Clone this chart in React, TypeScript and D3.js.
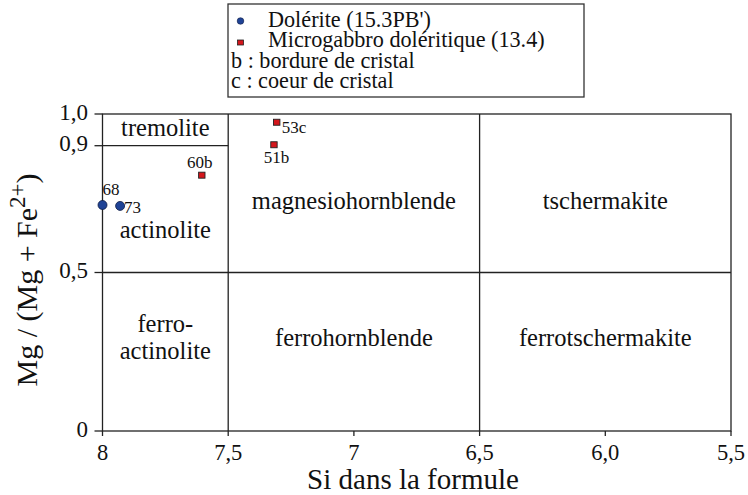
import React from "react";
import * as d3 from "d3";

// data
const doleriteSi = [8.0, 7.93];
const doleriteMg = [0.713, 0.71];
const doleriteLabels = ["68", "73"];

const microSi = [7.605, 7.307, 7.318];
const microMg = [0.807, 0.974, 0.903];
const microLabels = ["60b", "53c", "51b"];

const xTicks = [8, 7.5, 7, 6.5, 6.0, 5.5];
const xTickLabels = ["8", "7,5", "7", "6,5", "6,0", "5,5"];
const yTicks = [0, 0.5, 0.9, 1.0];
const yTickLabels = ["0", "0,5", "0,9", "1,0"];

const fieldNames = ["tremolite", "actinolite", "magnesiohornblende", "tschermakite", "ferrohornblende", "ferrotschermakite"];
const fieldSi = [7.75, 7.75, 7.0, 6.0, 7.0, 6.0];
const fieldMg = [0.93, 0.609, 0.7, 0.7, 0.268, 0.268];

const legendItems = ["Dolérite (15.3PB')", "Microgabbro doléritique (13.4)", "b : bordure de cristal", "c : coeur de cristal"];

const FONT = "Liberation Serif";
const INK = "#111";
const LINE = "#222";

// label offsets for point annotations (px)
const dolOff = [[0, -10, "start"], [4, 7, "start"]] as const;
const micOff = [[-2, -7, "middle"], [5, 11, "start"], [2.5, 18, "middle"]] as const;

export default function App() {
  const W = 748, H = 495;
  const x = d3.scaleLinear().domain([8, 5.5]).range([102.5, 731]);
  const y = d3.scaleLinear().domain([0, 1]).range([431, 114]);
  const sw = 1.3;
  const tf = { fontFamily: FONT };

  return (
    <svg width={W} height={H} style={{ position: "absolute", left: 0, top: 0, background: "#fff", fontFamily: FONT }}>
      <rect x={x(8)} y={y(1)} width={x(5.5) - x(8)} height={y(0) - y(1)} fill="none" stroke={LINE} strokeWidth={sw} />
      <line x1={x(7.5)} x2={x(7.5)} y1={y(1)} y2={y(0)} stroke={LINE} strokeWidth={sw} />
      <line x1={x(6.5)} x2={x(6.5)} y1={y(1)} y2={y(0)} stroke={LINE} strokeWidth={sw} />
      <line x1={x(8)} x2={x(5.5)} y1={y(0.5)} y2={y(0.5)} stroke={LINE} strokeWidth={sw} />
      <line x1={x(8)} x2={x(7.5)} y1={y(0.9)} y2={y(0.9)} stroke={LINE} strokeWidth={sw} />

      {yTicks.map((t, i) => (
        <g key={"y" + t}>
          <line x1={x(8) - 8} x2={x(8)} y1={y(t)} y2={y(t)} stroke={LINE} strokeWidth={sw} />
          <text x={x(8) - 14.5} y={y(t) + 5.5} textAnchor="end" fontSize={23} fill={INK} style={tf}>{yTickLabels[i]}</text>
        </g>
      ))}
      {xTicks.map((t, i) => (
        <g key={"x" + t}>
          <line x1={x(t)} x2={x(t)} y1={y(0)} y2={y(0) + 5} stroke={LINE} strokeWidth={sw} />
          <text x={x(t)} y={y(0) + 29} textAnchor="middle" fontSize={22.5} fill={INK} style={tf}>{xTickLabels[i]}</text>
        </g>
      ))}

      {fieldNames.map((n, i) => (
        <text key={n} x={x(fieldSi[i])} y={y(fieldMg[i])} textAnchor="middle" fontSize={24.5} fill={INK} style={tf}>{n}</text>
      ))}
      <text x={x(7.75)} y={y(0.312)} textAnchor="middle" fontSize={24.5} fill={INK} style={tf}>
        <tspan x={x(7.75)}>ferro-</tspan>
        <tspan x={x(7.75)} dy={27}>actinolite</tspan>
      </text>

      {doleriteSi.map((s, i) => (
        <g key={"d" + i}>
          <circle cx={x(s)} cy={y(doleriteMg[i])} r={4.5} fill="#1f4396" stroke="#0d1c45" strokeWidth={0.8} />
          <text x={x(s) + dolOff[i][0]} y={y(doleriteMg[i]) + dolOff[i][1]} textAnchor={dolOff[i][2]} fontSize={17} fill={INK} style={tf}>{doleriteLabels[i]}</text>
        </g>
      ))}
      {microSi.map((s, i) => (
        <g key={"m" + i}>
          <rect x={x(s) - 3.2} y={y(microMg[i]) - 3} width={6.4} height={6} fill="#d4161c" stroke="#222" strokeWidth={0.9} />
          <text x={x(s) + micOff[i][0]} y={y(microMg[i]) + micOff[i][1]} textAnchor={micOff[i][2]} fontSize={17} fill={INK} style={tf}>{microLabels[i]}</text>
        </g>
      ))}

      <text x={413} y={489} textAnchor="middle" fontSize={29} fill={INK} style={tf}>Si dans la formule</text>
      <text transform="translate(37,280) rotate(-90)" textAnchor="middle" fontSize={30} fill={INK} style={tf}>
        <tspan>Mg / (Mg + Fe</tspan>
        <tspan dy={-12} fontSize={23}>2+</tspan>
        <tspan dy={12}>)</tspan>
      </text>

      <g>
        <rect x={228} y={4} width={356} height={93} fill="#fff" stroke="#333" strokeWidth={sw} />
        <circle cx={240.5} cy={21} r={3.3} fill="#1f4396" stroke="#0d1c45" strokeWidth={0.6} />
        <rect x={237.5} y={40} width={6} height={5} fill="#d4161c" stroke="#222" strokeWidth={0.8} />
        {legendItems.map((t, i) => (
          <text key={t} x={i < 2 ? 268 : 231} y={27 + i * 20.3} fontSize={22.2} fill={INK} style={tf}>{t}</text>
        ))}
      </g>
    </svg>
  );
}
